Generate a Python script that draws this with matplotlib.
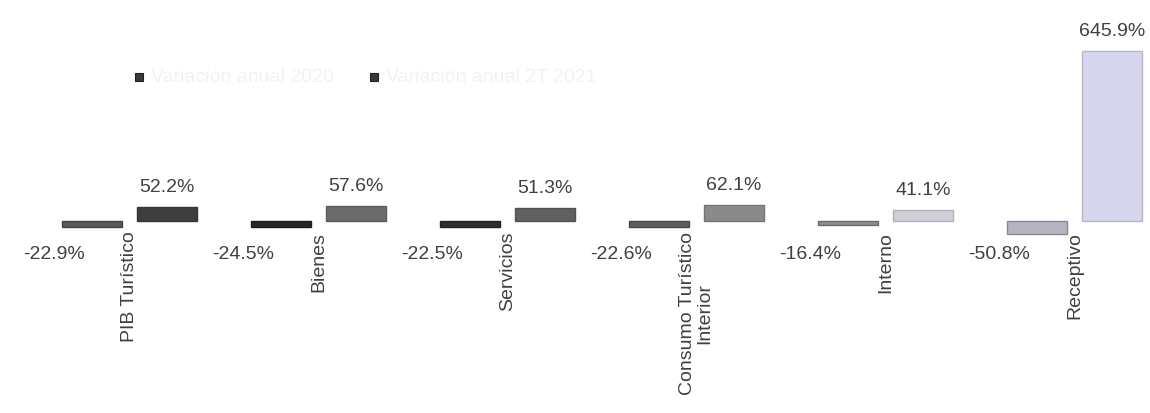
import matplotlib
matplotlib.use("Agg")
import matplotlib.pyplot as plt
import matplotlib.colors as mcolors
import numpy as np

categories = ["PIB Turístico", "Bienes", "Servicios", "Consumo Turístico\nInterior", "Interno", "Receptivo"]
series_names = ["Variación anual 2020", "Variación anual 2T 2021"]
values_2020 = [-22.9, -24.5, -22.5, -22.6, -16.4, -50.8]
values_2021 = [52.2, 57.6, 51.3, 62.1, 41.1, 645.9]
neg_colors = ["#5a5a5a", "#262626", "#2e2e2e", "#5e5e5e", "#8e8e8e", "#b4b4c2"]
pos_colors = ["#3e3e3e", "#6c6c6c", "#606060", "#8a8a8a", "#d0d0d8", "#d6d7ef"]

plt.rcParams["font.family"] = ["Liberation Sans", "DejaVu Sans"]

W, H, DPI = 11.5, 4.14, 100
fig = plt.figure(figsize=(W, H), dpi=DPI)
ax = fig.add_axes([0, 0, 1, 1])

spacing_px = 189.0
x0_px = 129.5
zero_px = 222.0
px_per_unit = 0.263
ax.set_xlim(-x0_px / spacing_px, (1150 - x0_px) / spacing_px)
ax.set_ylim(-(414 - zero_px) / px_per_unit, zero_px / px_per_unit)

ax.spines["bottom"].set_position(("data", 0))
for s in ax.spines.values():
    s.set_visible(False)

x = np.arange(len(categories))
bw = 0.317
off = 0.198


def darker(c, f=0.75):
    r, g, b = mcolors.to_rgb(c)
    return (r * f, g * f, b * f)


ax.bar(x - off, values_2020, width=bw, color=neg_colors,
       edgecolor=[darker(c) for c in neg_colors], linewidth=1.0)
ax.bar(x + off, values_2021, width=bw, color=pos_colors,
       edgecolor=[darker(c, 0.85) for c in pos_colors], linewidth=1.0)

fs = 14
for xi, v in zip(x, values_2021):
    ax.annotate(f"{v:.1f}%", (xi + off, v), xytext=(0, 11.5), textcoords="offset points",
                ha="center", va="baseline", fontsize=fs, color="#404040")
for xi, v in zip(x, values_2020):
    ax.annotate(f"{v:.1f}%", (xi - off, 0), xytext=(-38 * 0.72, -37 * 0.72), textcoords="offset points",
                ha="center", va="baseline", fontsize=fs, color="#404040")

ax.set_xticks(x)
ax.set_xticklabels(categories, rotation=90, fontsize=fs, color="#404040", linespacing=1.0)
ax.tick_params(axis="x", length=0, pad=7)
ax.set_yticks([])

# faint legend
leg_x = [139 / 1150, 374 / 1150]
for lx, name in zip(leg_x, series_names):
    fig.patches.append(plt.Rectangle((lx - 4 / 1150, 1 - 82 / 414), 8 / 1150, 8 / 414,
                                     transform=fig.transFigure, facecolor="#3a3a3a",
                                     edgecolor="#222222", linewidth=0.8))
    fig.text(lx + 12 / 1150, 1 - 78 / 414, name, fontsize=fs, color="#f2f2f2",
             ha="left", va="center")

fig.savefig("out.png", dpi=DPI, facecolor="white")
